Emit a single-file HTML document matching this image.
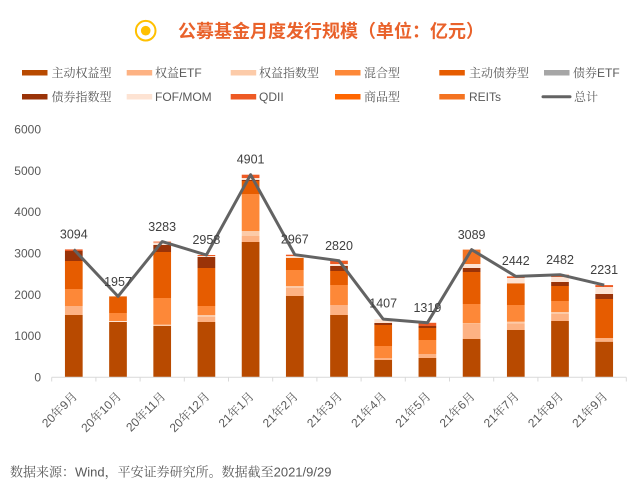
<!DOCTYPE html>
<html>
<head>
<meta charset="utf-8">
<style>
html,body{margin:0;padding:0;background:#fff;}
svg{display:block;}
.t{font-family:"Liberation Sans","Noto Serif CJK SC",serif;}
.s{font-family:"Liberation Sans","Noto Sans CJK SC",sans-serif;}
</style>
</head>
<body>
<svg width="631" height="487" viewBox="0 0 631 487" xmlns="http://www.w3.org/2000/svg">
<rect width="631" height="487" fill="#fff"/>
<!-- Title -->
<circle cx="145.7" cy="30.7" r="9.8" fill="none" stroke="#FFC000" stroke-width="2"/>
<circle cx="145.7" cy="30.7" r="4.8" fill="#FFC000"/>
<text x="178" y="37.5" class="s" font-size="18" font-weight="bold" fill="#E9622B">公募基金月度发行规模（单位：亿元）</text>

<!-- Legend -->
<g class="t" font-size="12" fill="#595959">
<rect x="22" y="70" width="25.5" height="5.5" fill="#B84A00"/><text x="51.5" y="77">主动权益型</text>
<rect x="126.7" y="70" width="25.5" height="5.5" fill="#FDB283"/><text x="155" y="77">权益ETF</text>
<rect x="230.7" y="70" width="25.5" height="5.5" fill="#FCCBA9"/><text x="259" y="77">权益指数型</text>
<rect x="335" y="70" width="25.5" height="5.5" fill="#FD8838"/><text x="364" y="77">混合型</text>
<rect x="439.3" y="70" width="25.5" height="5.5" fill="#E65C00"/><text x="469" y="77">主动债券型</text>
<rect x="544" y="70" width="25.5" height="5.5" fill="#A6A6A6"/><text x="573" y="77">债券ETF</text>

<rect x="22" y="94" width="25.5" height="5.5" fill="#9A3308"/><text x="51.5" y="101">债券指数型</text>
<rect x="126.7" y="94" width="25.5" height="5.5" fill="#FDE3D3"/><text x="155" y="101">FOF/MOM</text>
<rect x="230.7" y="94" width="25.5" height="5.5" fill="#EE5A24"/><text x="259" y="101">QDII</text>
<rect x="335" y="94" width="25.5" height="5.5" fill="#FF6600"/><text x="364" y="101">商品型</text>
<rect x="439.3" y="94" width="25.5" height="5.5" fill="#F47321"/><text x="469" y="101">REITs</text>
<line x1="543" y1="96.7" x2="570" y2="96.7" stroke="#636363" stroke-width="3" stroke-linecap="round"/><text x="574" y="101">总计</text>
</g>

<!-- Y axis labels -->
<g class="s" font-size="12" fill="#595959" text-anchor="end">
<text x="41" y="133.5">6000</text>
<text x="41" y="174.8">5000</text>
<text x="41" y="216.2">4000</text>
<text x="41" y="257.5">3000</text>
<text x="41" y="298.8">2000</text>
<text x="41" y="340.2">1000</text>
<text x="41" y="381.5">0</text>
</g>

<!-- Bars -->
<g id="bars">
<!-- Bar1 c=73.8 -->
<g transform="translate(64.95,0)">
<rect y="315" width="17.7" height="62.3" fill="#B84A00"/>
<rect y="306" width="17.7" height="9" fill="#FDB283"/>
<rect y="289" width="17.7" height="17" fill="#FD8838"/>
<rect y="261" width="17.7" height="28" fill="#E65C00"/>
<rect y="251" width="17.7" height="10" fill="#9A3308"/>
<rect y="249.4" width="17.7" height="1.6" fill="#EE5A24"/>
</g>
<!-- Bar2 c=118 -->
<g transform="translate(109.15,0)">
<rect y="322" width="17.7" height="55.3" fill="#B84A00"/>
<rect y="321" width="17.7" height="1" fill="#FDE3D3"/>
<rect y="313" width="17.7" height="8" fill="#FD8838"/>
<rect y="296.4" width="17.7" height="16.6" fill="#E65C00"/>
</g>
<!-- Bar3 c=162.2 -->
<g transform="translate(153.35,0)">
<rect y="326" width="17.7" height="51.3" fill="#B84A00"/>
<rect y="324.7" width="17.7" height="1.3" fill="#FCCBA9"/>
<rect y="298" width="17.7" height="26.7" fill="#FD8838"/>
<rect y="252" width="17.7" height="46" fill="#E65C00"/>
<rect y="245" width="17.7" height="7" fill="#9A3308"/>
<rect y="242.5" width="17.7" height="2.5" fill="#FDE3D3"/>
<rect y="241.6" width="17.7" height="0.9" fill="#EE5A24"/>
</g>
<!-- Bar4 c=206.4 -->
<g transform="translate(197.55,0)">
<rect y="322" width="17.7" height="55.3" fill="#B84A00"/>
<rect y="317" width="17.7" height="5" fill="#FDB283"/>
<rect y="315" width="17.7" height="2" fill="#FCCBA9"/>
<rect y="306" width="17.7" height="9" fill="#FD8838"/>
<rect y="268" width="17.7" height="38" fill="#E65C00"/>
<rect y="257" width="17.7" height="11" fill="#9A3308"/>
<rect y="256" width="17.7" height="1" fill="#FDE3D3"/>
<rect y="255" width="17.7" height="1" fill="#EE5A24"/>
</g>
<!-- Bar5 c=250.6 -->
<g transform="translate(241.75,0)">
<rect y="242" width="17.7" height="135.3" fill="#B84A00"/>
<rect y="236" width="17.7" height="6" fill="#FDB283"/>
<rect y="231" width="17.7" height="5" fill="#FCCBA9"/>
<rect y="194" width="17.7" height="37" fill="#FD8838"/>
<rect y="181" width="17.7" height="13" fill="#E65C00"/>
<rect y="180" width="17.7" height="1" fill="#9A3308"/>
<rect y="178" width="17.7" height="2" fill="#FDE3D3"/>
<rect y="174.7" width="17.7" height="3.3" fill="#EE5A24"/>
</g>
<!-- Bar6 c=294.8 -->
<g transform="translate(285.95,0)">
<rect y="296" width="17.7" height="81.3" fill="#B84A00"/>
<rect y="288" width="17.7" height="8" fill="#FDB283"/>
<rect y="286" width="17.7" height="2" fill="#FCCBA9"/>
<rect y="270" width="17.7" height="16" fill="#FD8838"/>
<rect y="258" width="17.7" height="12" fill="#E65C00"/>
<rect y="256" width="17.7" height="2" fill="#FDE3D3"/>
<rect y="254.7" width="17.7" height="1.3" fill="#EE5A24"/>
</g>
<!-- Bar7 c=339 -->
<g transform="translate(330.15,0)">
<rect y="315" width="17.7" height="62.3" fill="#B84A00"/>
<rect y="305" width="17.7" height="10" fill="#FDB283"/>
<rect y="285" width="17.7" height="20" fill="#FD8838"/>
<rect y="271" width="17.7" height="14" fill="#E65C00"/>
<rect y="266" width="17.7" height="5" fill="#9A3308"/>
<rect y="264" width="17.7" height="2" fill="#FDE3D3"/>
<rect y="260.7" width="17.7" height="3.3" fill="#EE5A24"/>
</g>
<!-- Bar8 c=383.2 -->
<g transform="translate(374.35,0)">
<rect y="360" width="17.7" height="17.3" fill="#B84A00"/>
<rect y="358" width="17.7" height="2" fill="#FDB283"/>
<rect y="346" width="17.7" height="12" fill="#FD8838"/>
<rect y="325" width="17.7" height="21" fill="#E65C00"/>
<rect y="323" width="17.7" height="2" fill="#9A3308"/>
<rect y="319.2" width="17.7" height="3.8" fill="#FDE3D3"/>
</g>
<!-- Bar9 c=427.4 -->
<g transform="translate(418.55,0)">
<rect y="358" width="17.7" height="19.3" fill="#B84A00"/>
<rect y="354" width="17.7" height="4" fill="#FDB283"/>
<rect y="340" width="17.7" height="14" fill="#FD8838"/>
<rect y="328" width="17.7" height="12" fill="#E65C00"/>
<rect y="326" width="17.7" height="2" fill="#9A3308"/>
<rect y="322.8" width="17.7" height="3.2" fill="#EE5A24"/>
</g>
<!-- Bar10 c=471.6 -->
<g transform="translate(462.75,0)">
<rect y="339" width="17.7" height="38.3" fill="#B84A00"/>
<rect y="324" width="17.7" height="15" fill="#FDB283"/>
<rect y="323.3" width="17.7" height="0.7" fill="#FCCBA9"/>
<rect y="304" width="17.7" height="19.3" fill="#FD8838"/>
<rect y="272" width="17.7" height="32" fill="#E65C00"/>
<rect y="268" width="17.7" height="4" fill="#9A3308"/>
<rect y="264" width="17.7" height="4" fill="#FDE3D3"/>
<rect y="249.6" width="17.7" height="14.4" fill="#F47321"/>
</g>
<!-- Bar11 c=515.8 -->
<g transform="translate(506.95,0)">
<rect y="330" width="17.7" height="47.3" fill="#B84A00"/>
<rect y="323.3" width="17.7" height="6.7" fill="#FDB283"/>
<rect y="321.7" width="17.7" height="1.6" fill="#FCCBA9"/>
<rect y="305" width="17.7" height="16.7" fill="#FD8838"/>
<rect y="283.3" width="17.7" height="21.7" fill="#E65C00"/>
<rect y="278" width="17.7" height="5.3" fill="#FDE3D3"/>
<rect y="276.4" width="17.7" height="1.6" fill="#EE5A24"/>
</g>
<!-- Bar12 c=560 -->
<g transform="translate(551.15,0)">
<rect y="321" width="17.7" height="56.3" fill="#B84A00"/>
<rect y="314" width="17.7" height="7" fill="#FDB283"/>
<rect y="312" width="17.7" height="2" fill="#FCCBA9"/>
<rect y="301" width="17.7" height="11" fill="#FD8838"/>
<rect y="286" width="17.7" height="15" fill="#E65C00"/>
<rect y="282" width="17.7" height="4" fill="#9A3308"/>
<rect y="277" width="17.7" height="5" fill="#FDE3D3"/>
<rect y="274.7" width="17.7" height="2.3" fill="#EE5A24"/>
</g>
<!-- Bar13 c=604.2 -->
<g transform="translate(595.35,0)">
<rect y="341.7" width="17.7" height="35.6" fill="#B84A00"/>
<rect y="338" width="17.7" height="3.7" fill="#FDB283"/>
<rect y="299" width="17.7" height="39" fill="#E65C00"/>
<rect y="294" width="17.7" height="5" fill="#9A3308"/>
<rect y="287" width="17.7" height="7" fill="#FDE3D3"/>
<rect y="285.1" width="17.7" height="1.9" fill="#EE5A24"/>
</g>
</g>

<!-- X axis -->
<line x1="51.7" y1="377.3" x2="626.3" y2="377.3" stroke="#D9D9D9" stroke-width="1"/>
<g stroke="#D9D9D9" stroke-width="1">
<line x1="51.7" y1="377.3" x2="51.7" y2="381.5"/>
<line x1="95.9" y1="377.3" x2="95.9" y2="381.5"/>
<line x1="140.1" y1="377.3" x2="140.1" y2="381.5"/>
<line x1="184.3" y1="377.3" x2="184.3" y2="381.5"/>
<line x1="228.5" y1="377.3" x2="228.5" y2="381.5"/>
<line x1="272.7" y1="377.3" x2="272.7" y2="381.5"/>
<line x1="316.9" y1="377.3" x2="316.9" y2="381.5"/>
<line x1="361.1" y1="377.3" x2="361.1" y2="381.5"/>
<line x1="405.3" y1="377.3" x2="405.3" y2="381.5"/>
<line x1="449.5" y1="377.3" x2="449.5" y2="381.5"/>
<line x1="493.7" y1="377.3" x2="493.7" y2="381.5"/>
<line x1="537.9" y1="377.3" x2="537.9" y2="381.5"/>
<line x1="582.1" y1="377.3" x2="582.1" y2="381.5"/>
<line x1="626.3" y1="377.3" x2="626.3" y2="381.5"/>
</g>

<!-- Total line -->
<polyline fill="none" stroke="#636363" stroke-width="3" stroke-linejoin="round"
points="73.8,249.4 118,296.4 162.2,241.6 206.4,255 250.6,174.7 294.8,254.7 339,260.7 383.2,319.1 427.4,322.8 471.6,249.6 515.8,276.4 560,274.7 604.2,285.1"/>

<!-- Data labels -->
<g class="s" font-size="12.5" fill="#404040" text-anchor="middle">
<text x="73.8" y="238.5">3094</text>
<text x="118" y="286">1957</text>
<text x="162.2" y="231">3283</text>
<text x="206.4" y="244">2958</text>
<text x="250.6" y="163.5">4901</text>
<text x="294.8" y="243.5">2967</text>
<text x="339" y="250">2820</text>
<text x="383.2" y="307.5">1407</text>
<text x="427.4" y="312">1319</text>
<text x="471.6" y="239">3089</text>
<text x="515.8" y="265">2442</text>
<text x="560" y="264">2482</text>
<text x="604.2" y="274">2231</text>
</g>

<!-- X labels -->
<g class="t" font-size="12" fill="#595959" text-anchor="end">
<text transform="translate(78,397) rotate(-45)">20年9月</text>
<text transform="translate(122,397) rotate(-45)">20年10月</text>
<text transform="translate(166.2,397) rotate(-45)">20年11月</text>
<text transform="translate(210.4,397) rotate(-45)">20年12月</text>
<text transform="translate(254.6,397) rotate(-45)">21年1月</text>
<text transform="translate(298.8,397) rotate(-45)">21年2月</text>
<text transform="translate(343,397) rotate(-45)">21年3月</text>
<text transform="translate(387.2,397) rotate(-45)">21年4月</text>
<text transform="translate(431.4,397) rotate(-45)">21年5月</text>
<text transform="translate(475.6,397) rotate(-45)">21年6月</text>
<text transform="translate(519.8,397) rotate(-45)">21年7月</text>
<text transform="translate(564,397) rotate(-45)">21年8月</text>
<text transform="translate(608.2,397) rotate(-45)">21年9月</text>
</g>

<!-- Footer -->
<text x="10" y="476.5" class="t" font-size="13" fill="#595959">数据来源：Wind，平安证券研究所。数据截至2021/9/29</text>
</svg>
</body>
</html>
